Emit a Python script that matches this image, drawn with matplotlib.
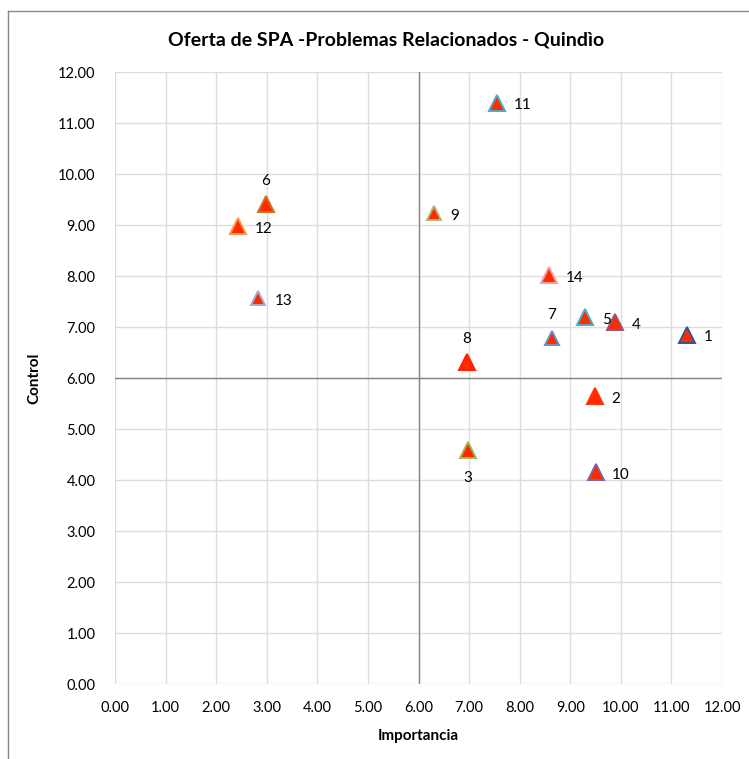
import matplotlib.pyplot as plt
from matplotlib.lines import Line2D

plt.rcParams['font.family'] = ['Lato', 'DejaVu Sans']

# ================ data ===================
labels = ['1', '2', '3', '4', '5', '6', '7', '8', '9', '10', '11', '12', '13', '14']
importancia = [11.30, 9.49, 6.98, 9.88, 9.30, 2.98, 8.63, 6.96, 6.30, 9.50, 7.55, 2.43, 2.83, 8.58]
control = [6.85, 5.65, 4.59, 7.10, 7.20, 9.41, 6.78, 6.31, 9.23, 4.15, 11.40, 8.98, 7.56, 8.02]
edge_colors = ['#2F5597', '#FF3300', '#9BBB59', '#A05070', '#4BACC6', '#D07020',
               '#7090C0', '#FF2000', '#B0B870', '#8064A2', '#4BACC6', '#F79646',
               '#A0B0D0', '#F0A0A0']
sizes = [12, 11, 12, 11, 12, 12, 10, 12, 10, 12, 12, 12, 10, 11]
# label placement: r = right, t = top, b = below
placement = ['r', 'r', 'b', 'r', 'r', 't', 't', 't', 'r', 'r', 'r', 'r', 'r', 'r']

ticks = [0, 1, 2, 3, 4, 5, 6, 7, 8, 9, 10, 11, 12]

# ================ plot ===================
fig = plt.figure(figsize=(7.49, 7.59), dpi=100)
ax = fig.add_axes([0.1535, 0.0988, 0.8105, 0.8063])

for x, y, lab, ec, s, p in zip(importancia, control, labels, edge_colors, sizes, placement):
    ax.plot(x, y, marker='^', markersize=s, markerfacecolor='#FF2A00',
            markeredgecolor=ec, markeredgewidth=1.4, linestyle='none', zorder=3)
    if p == 'r':
        ax.annotate(lab, (x, y), xytext=(12, -2), textcoords='offset points',
                    ha='left', va='center', fontsize=11)
    elif p == 't':
        ax.annotate(lab, (x, y), xytext=(0, 17), textcoords='offset points',
                    ha='center', va='center', fontsize=11)
    else:
        ax.annotate(lab, (x, y), xytext=(0, -20), textcoords='offset points',
                    ha='center', va='center', fontsize=11)

ax.set_xlim(0, 12)
ax.set_ylim(0, 12)
ax.set_xticks(ticks)
ax.set_yticks(ticks)
ax.set_xticklabels([f'{t:.2f}' for t in ticks], fontsize=10.5)
ax.set_yticklabels([f'{t:.2f}' for t in ticks], fontsize=10.5)
ax.tick_params(length=0, pad=12)
ax.tick_params(axis='y', pad=14)
ax.grid(True, color='#DDDDDD', linewidth=1)
ax.set_axisbelow(True)
for sp in ax.spines.values():
    sp.set_visible(False)
ax.axvline(6, color='#868686', linewidth=1, zorder=1)
ax.axhline(6, color='#868686', linewidth=1, zorder=1)

ax.set_xlabel('Importancia', fontsize=11, fontweight='bold', labelpad=10)
ax.set_ylabel('Control', fontsize=11, fontweight='bold', labelpad=12)
fig.text(0.515, 0.947, 'Oferta de SPA -Problemas Relacionados - Quindìo',
         ha='center', va='center', fontsize=14, fontweight='bold')

# chart border
fig.add_artist(Line2D([8 / 749, 8 / 749], [0, 1 - 11 / 759], color='#868686', linewidth=1))
fig.add_artist(Line2D([8 / 749, 1], [1 - 11 / 759, 1 - 11 / 759], color='#868686', linewidth=1))

fig.savefig('out.png', dpi=100)
